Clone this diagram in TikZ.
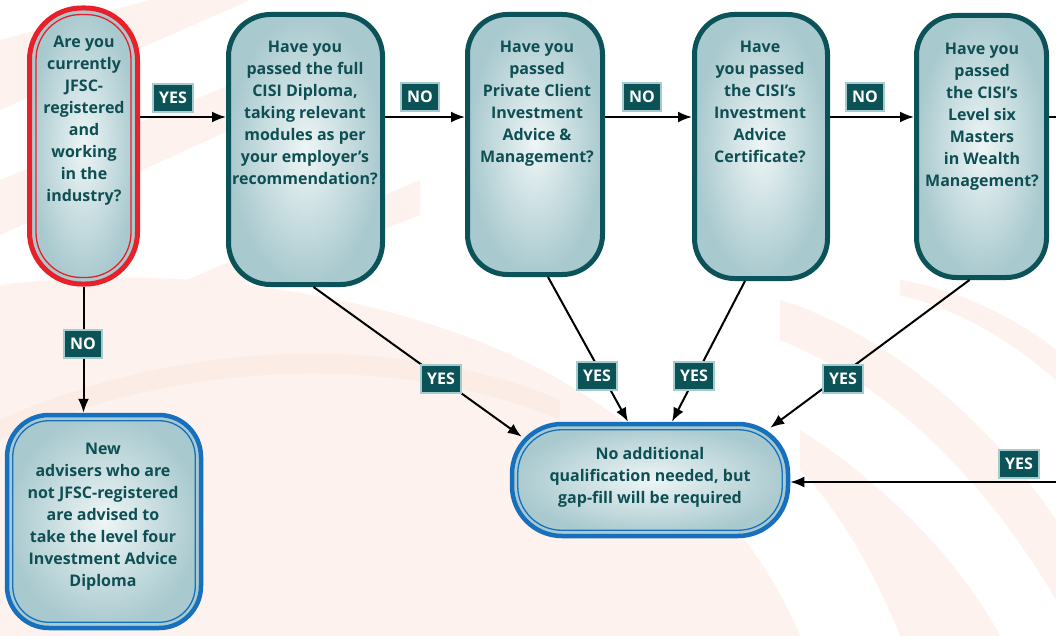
\documentclass[tikz,border=0pt]{standalone}
\usepackage{fontspec}
\setmainfont{Open Sans}
\usetikzlibrary{arrows.meta,calc}
\definecolor{tealdk}{HTML}{0B5358}
\definecolor{txtc}{HTML}{0E4F54}
\definecolor{labfill}{HTML}{0C5357}
\definecolor{labbord}{HTML}{A6CBCE}
\definecolor{redb}{HTML}{E8202A}
\definecolor{blueb}{HTML}{1670BE}
\definecolor{gin}{HTML}{EEF5F6}
\definecolor{gout}{HTML}{A8C9CE}
\definecolor{pk1}{HTML}{FDF2ED}
\definecolor{pk2}{HTML}{FBE8DF}
\begin{document}
\begin{tikzpicture}[x=1pt,y=-1pt,
  box/.style={draw=tealdk, line width=5pt, inner color=gin, outer color=gout, minimum width=#1, inner sep=0pt},
  tx/.style={text=txtc, font=\bfseries\fontsize{16}{22}\selectfont, align=center, anchor=north, inner sep=0pt},
  lab/.style={fill=labfill, draw=labbord, line width=2.2pt, text=white, font=\bfseries\fontsize{16}{16}\selectfont, inner xsep=6pt, inner ysep=4pt, minimum height=28pt},
  arr/.style={-{Latex[length=14pt,width=11pt]}, line width=2pt},
  ln/.style={line width=2pt}]
\useasboundingbox (0,0) rectangle (1056,636);
% background
\fill[white] (0,0) rectangle (1056,636);
\fill[pk1] (0,636) -- (0,285) .. controls (200,260) and (420,300) .. (560,380) .. controls (680,450) and (760,540) .. (800,636) -- cycle;
\fill[pk2, opacity=0.5] (0,420) .. controls (200,330) and (420,340) .. (560,400) -- (560,420) .. controls (420,360) and (200,350) .. (0,440) -- cycle;
\fill[pk1] (0,40) -- (0,110) -- (250,0) -- (150,0) -- cycle;
\fill[pk1] (0,180) -- (0,235) -- (230,130) -- (230,85) -- cycle;
\fill[pk1] (140,300) -- (420,180) -- (420,215) -- (200,300) -- cycle;
\fill[pk1] (780,300) .. controls (880,330) and (990,420) .. (1056,520) -- (1056,600) .. controls (980,470) and (880,380) .. (780,340) -- cycle;
\fill[pk1] (800,430) .. controls (880,480) and (960,560) .. (1000,636) -- (900,636) .. controls (870,560) and (830,500) .. (800,470) -- cycle;
\fill[pk1] (900,280) .. controls (960,290) and (1020,320) .. (1056,350) -- (1056,380) .. controls (1010,340) and (960,310) .. (900,295) -- cycle;

\coordinate (row) at (0,117);
% question boxes
\node[box=108pt, draw=redb, minimum height=276pt, rounded corners=52pt] (n1) at (83.5,146) {};
\draw[redb, line width=1.3pt, rounded corners=45pt] ($(n1.south west)+(9,-9)$) rectangle ($(n1.north east)+(-9,9)$);
\node[box=154pt, minimum height=270pt, rounded corners=42pt] (n2) at (305.5,149.5) {};
\node[box=135pt, minimum height=260pt, rounded corners=40pt] (n3) at (535,144.5) {};
\node[box=133pt, minimum height=264pt, rounded corners=40pt] (n4) at (761,146.5) {};
\node[box=130pt, minimum height=262pt, rounded corners=40pt] (n5) at (981.5,146.5) {};
% outcome boxes
\node[box=276pt, draw=blueb, line width=4.5pt, minimum height=112pt, rounded corners=50pt] (t) at (650,480) {};
\draw[blueb, line width=1.3pt, rounded corners=44pt] ($(t.south west)+(8,-8)$) rectangle ($(t.north east)+(-8,8)$);
\node[box=194pt, draw=blueb, line width=4.5pt, minimum height=213pt, rounded corners=42pt] (nw) at (104,521.5) {};
\draw[blueb, line width=1.3pt, rounded corners=36pt] ($(nw.south west)+(8,-8)$) rectangle ($(nw.north east)+(-8,8)$);
% texts
\node[tx] (n1t) at (84,36) {Are you\\currently\\JFSC-\\registered\\and\\working\\in the\\industry?};
\node[tx] (n2t) at (305,41) {Have you\\passed the full\\CISI Diploma,\\taking relevant\\modules as per\\your employer’s\\recommendation?};
\node[tx] (n3t) at (537,41) {Have you\\passed\\Private Client\\Investment\\Advice \&\\Management?};
\node[tx] (n4t) at (760,41) {Have\\you passed\\the CISI’s\\Investment\\Advice\\Certificate?};
\node[tx] (n5t) at (982,43) {Have you\\passed\\the CISI’s\\Level six\\Masters\\in Wealth\\Management?};
\node[tx] (tt) at (650,447) {No additional\\qualification needed, but\\gap-fill will be required};
\node[tx] (nwt) at (103,443) {New\\advisers who are\\not JFSC-registered\\are advised to\\take the level four\\Investment Advice\\Diploma};
% connectors
\coordinate (rout) at (1056,117);
\coordinate (rin) at (1056,482);
\draw[arr] (n1.east |- row) -- (n2.west |- row);
\draw[arr] (n2.east |- row) -- (n3.west |- row);
\draw[arr] (n3.east |- row) -- (n4.west |- row);
\draw[arr] (n4.east |- row) -- (n5.west |- row);
\draw[ln] (n5.east |- row) -- (rout);
\draw[arr] (n1.south) -- (n1.south |- nw.north);
\draw[arr] ($(n2.south)+(8,0)$) -- ($(t.north west)+(12,15)$);
\draw[arr] ($(n3.south)+(13,0)$) -- ($(t.north)+(-22,0)$);
\draw[arr] ($(n4.south)+(-16,0)$) -- ($(t.north)+(22,0)$);
\draw[arr] ($(n5.south)+(-12,0)$) -- ($(t.north east)+(-20,6)$);
\draw[arr] (rin) -- (t.east |- rin);
% labels
\node[lab] (l1) at (173,98) {YES};
\node[lab] (l2) at (420,97) {NO};
\node[lab] (l3) at (642,97) {NO};
\node[lab] (l4) at (865,97) {NO};
\node[lab] (l5) at (83,344) {NO};
\node[lab] (l6) at (441,379) {YES};
\node[lab] (l7) at (597,376) {YES};
\node[lab] (l8) at (694,376) {YES};
\node[lab] (l9) at (843,379) {YES};
\node[lab] (l10) at (1019,464) {YES};
\end{tikzpicture}
\end{document}
